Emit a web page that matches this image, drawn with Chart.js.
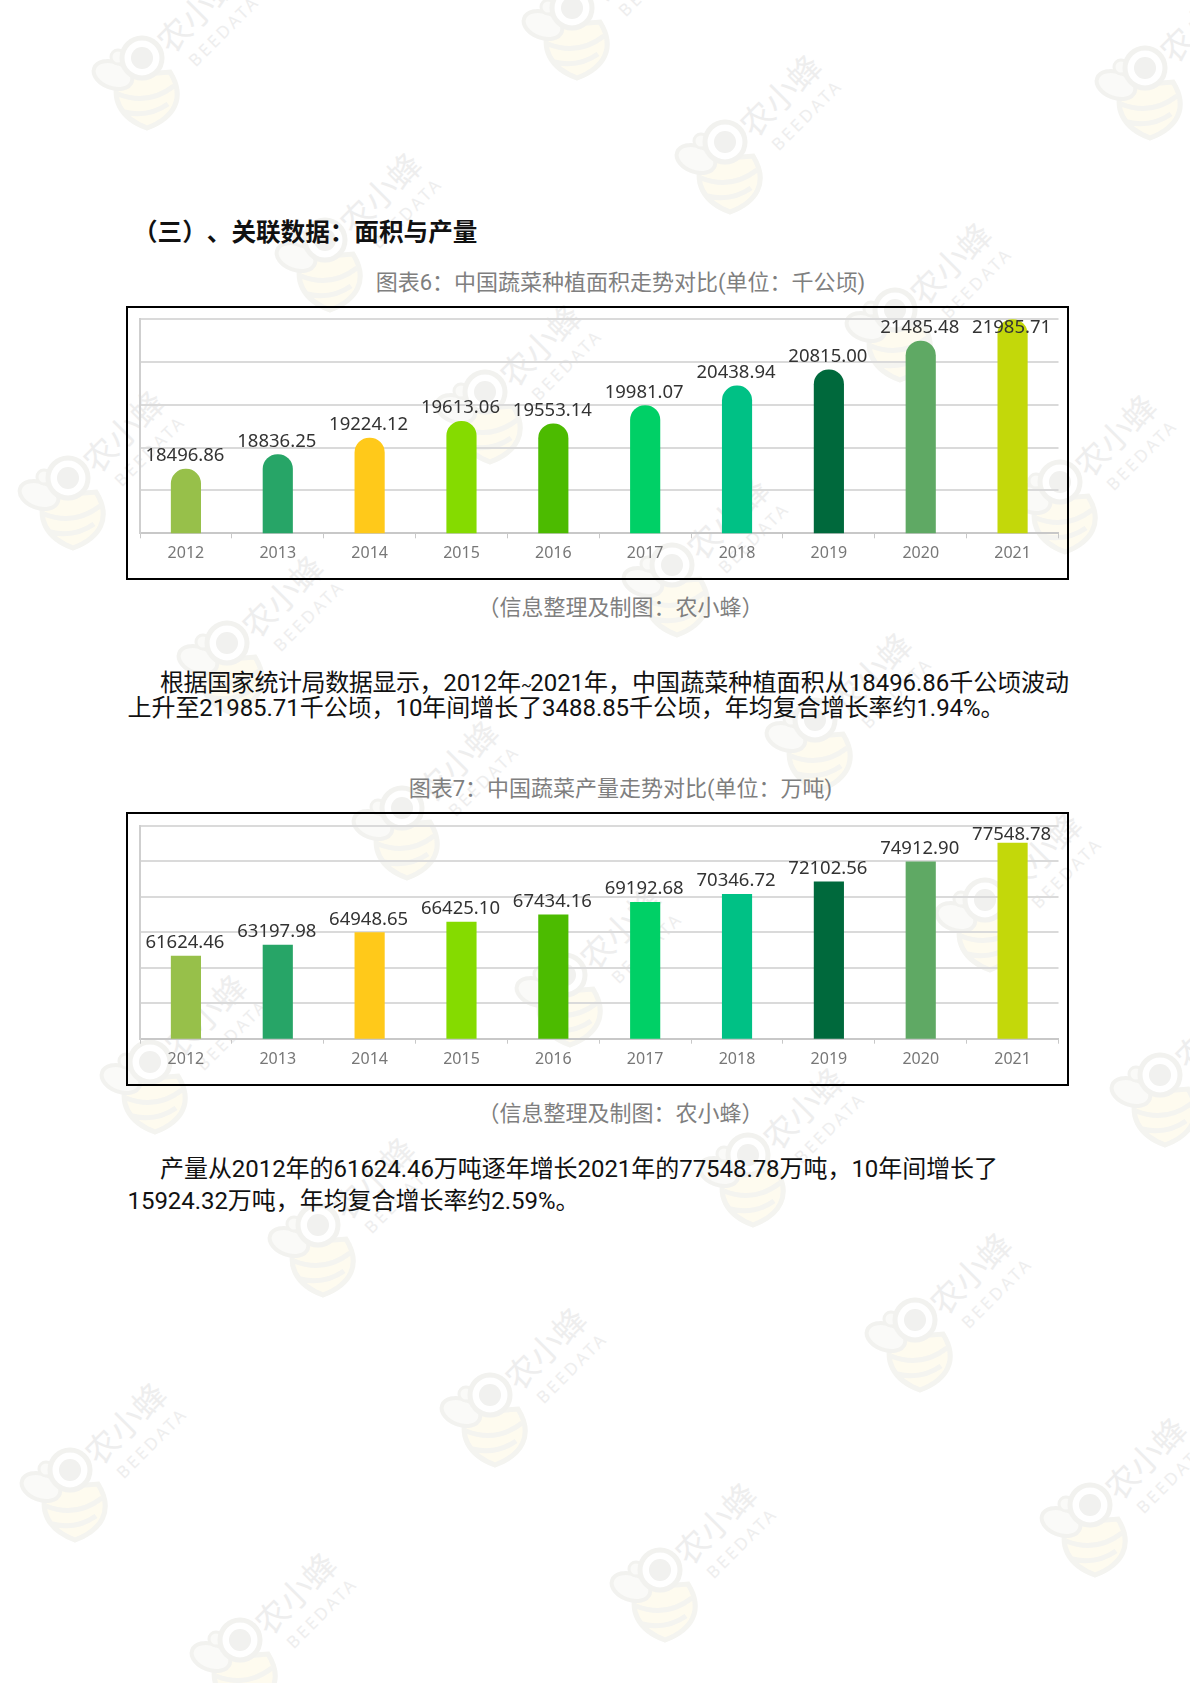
<!DOCTYPE html>
<html lang="zh">
<head>
<meta charset="utf-8">
<title>中国蔬菜种植面积与产量</title>
<script src="https://cdn.jsdelivr.net/npm/chart.js@4/dist/chart.umd.min.js"></script>
<style>
    html, body { margin: 0; padding: 0; background: #fff; }
    #page { position: relative; width: 1190px; height: 1683px; overflow: hidden; font-family: Roboto, "Noto Sans CJK SC", sans-serif; text-spacing-trim: space-all; }
    #watermarks { position: absolute; left: 0; top: 0; }
    .line { position: absolute; white-space: nowrap; }
    .heading { left: 133px; top: 214px; font: 700 24.6px/32px "Noto Sans CJK SC", sans-serif; color: #111; }
    .caption { left: 128px; width: 985px; text-align: center; font-size: 22px; line-height: 30px; color: #7f7f7f; }
    .body { font-size: 24px; line-height: 30px; color: #111; letter-spacing: -0.05px; }
    .box { position: absolute; left: 126px; width: 939px; height: 270px; border: 2px solid #000; }
    .box canvas { display: block; }
</style>
</head>
<body>
<div id="page">
    <svg id="watermarks" width="1190" height="1683"></svg>

    <div class="line heading">（三）、关联数据：面积与产量</div>

    <div class="line caption" style="top: 268px;">图表6：中国蔬菜种植面积走势对比(单位：千公顷)</div>
    <div class="box" style="top: 306px;"><canvas id="chartArea" width="939" height="270"></canvas></div>
    <div class="line caption" style="top: 593px;">（信息整理及制图：农小蜂）</div>

    <div class="line body" style="left: 160px; top: 668px;"><span style="letter-spacing: -0.4px;">根据国家统计局数据显示，</span>2012年<span style="font-size: 16px; letter-spacing: -1.5px;">~</span>2021年，<span style="letter-spacing: 0.1px;">中国蔬菜种植面积从</span>18496.86千公顷波动</div>
    <div class="line body" style="left: 127.5px; top: 693px;">上升至21985.71千公顷，10年间增长了3488.85千公顷，年均复合增长率约1.94%。</div>

    <div class="line caption" style="top: 774px;">图表7：中国蔬菜产量走势对比(单位：万吨)</div>
    <div class="box" style="top: 812px;"><canvas id="chartOutput" width="939" height="270"></canvas></div>
    <div class="line caption" style="top: 1099px;">（信息整理及制图：农小蜂）</div>

    <div class="line body" style="left: 160px; top: 1154px;">产量从2012年的61624.46万吨逐年增长2021年的77548.78万吨，10年间增长了</div>
    <div class="line body" style="left: 127.5px; top: 1186px;">15924.32万吨，年均复合增长率约2.59%。</div>
</div>

<script>
const years = ['2012', '2013', '2014', '2015', '2016', '2017', '2018', '2019', '2020', '2021'];
const plantedArea = [18496.86, 18836.25, 19224.12, 19613.06, 19553.14, 19981.07, 20438.94, 20815.00, 21485.48, 21985.71];
const vegetableOutput = [61624.46, 63197.98, 64948.65, 66425.10, 67434.16, 69192.68, 70346.72, 72102.56, 74912.90, 77548.78];
const barColors = ['#97c04a', '#27a567', '#ffc91a', '#85db00', '#4cbb00', '#00d066', '#00c185', '#00693c', '#5fa964', '#c3d80a'];

// head centre of each faint bee in the page background
const beeSpots = [
    [142, 58], [572, 8], [725, 142], [1145, 68], [325, 240], [895, 310], [485, 392], [68, 478],
    [1060, 482], [672, 565], [227, 643], [815, 720], [402, 808], [985, 900], [565, 975], [150, 1062],
    [1160, 1075], [748, 1155], [318, 1225], [915, 1320], [490, 1395], [70, 1470], [1090, 1505], [660, 1570], [240, 1640],
];

const gridColor = '#dadada';

// Value labels sit above the bars but never leave the top of the plot.
const valueLabels = {
    id: 'valueLabels',
    afterDatasetsDraw(chart) {
        const { ctx, chartArea } = chart;
        const values = chart.data.datasets[0].data;
        ctx.save();
        ctx.font = '18.5px "Noto Sans", sans-serif';
        ctx.fillStyle = '#333';
        ctx.textAlign = 'center';
        ctx.textBaseline = 'alphabetic';
        chart.getDatasetMeta(0).data.forEach((bar, i) => {
            const y = Math.max(bar.y - 8, chartArea.top + 14);
            ctx.fillText(values[i].toFixed(2), bar.x - 1, y);
        });
        ctx.restore();
    },
};

function drawBars(canvasId, values, axisMin, axisMax, axisStep, topRadius, plotTop, labelBand) {
    new Chart(document.getElementById(canvasId), {
        type: 'bar',
        data: {
            labels: years,
            datasets: [{
                data: values,
                backgroundColor: barColors,
                barThickness: 29.5,
                borderRadius: { topLeft: topRadius, topRight: topRadius, bottomLeft: 0, bottomRight: 0 },
                borderSkipped: false,
            }],
        },
        options: {
            responsive: false,
            animation: false,
            layout: { padding: { left: 12, right: 8.5, top: plotTop, bottom: 0 } },
            plugins: { legend: { display: false }, tooltip: { enabled: false } },
            scales: {
                x: {
                    afterFit(scale) { scale.height = labelBand; },
                    border: { color: '#c8c8c8', width: 2 },
                    grid: { drawOnChartArea: false, color: '#c8c8c8', tickLength: 5, tickWidth: 1 },
                    ticks: { color: '#777', padding: 6, font: { family: '"Noto Sans", sans-serif', size: 16 } },
                },
                y: {
                    min: axisMin,
                    max: axisMax,
                    afterFit(scale) { scale.width = 0; },
                    border: { color: '#cfcfcf', width: 2 },
                    grid: { color: gridColor, lineWidth: 2, drawTicks: false },
                    ticks: { display: false, stepSize: axisStep },
                },
            },
        },
        plugins: [valueLabels],
    });
}

function drawWatermarks() {
    const bee = ([x, y]) => `
        <g transform="translate(${x} ${y})" opacity="0.9">
            <path d="M-22 18 C-32 40 -22 60 5 70 C32 60 44 40 28 14 Z" fill="#fefbee" stroke="#f3f3ef" stroke-width="5"/>
            <path d="M-24 36 Q6 48 32 28 M-18 54 Q6 60 26 46" fill="none" stroke="#f3f3ef" stroke-width="5"/>
            <ellipse cx="-29" cy="17" rx="20" ry="13" transform="rotate(20 -29 17)" fill="#fafaf8" stroke="#f1f1ee" stroke-width="4"/>
            <circle cx="-24" cy="-1" r="7" fill="#fafaf8" stroke="#f1f1ee" stroke-width="3"/>
            <circle r="20" fill="#fff" stroke="#f1f1ee" stroke-width="5"/>
            <circle r="11" fill="#f0f0ee"/>
            <text x="58" y="-44" transform="rotate(-45 58 -44)" text-anchor="middle" dominant-baseline="middle" font-family="Noto Sans CJK SC" font-size="33" fill="#ededed">农小蜂</text>
            <text x="83" y="-26" transform="rotate(-45 83 -26)" text-anchor="middle" dominant-baseline="middle" font-family="Noto Sans" font-size="17" letter-spacing="3" fill="#ededed">BEEDATA</text>
        </g>`;
    document.getElementById('watermarks').innerHTML = beeSpots.map(bee).join('');
}

drawWatermarks();
drawBars('chartArea', plantedArea, 17000, 22000, 1000, 15, 11, 44.7);
drawBars('chartOutput', vegetableOutput, 50000, 80000, 5000, 0, 11.7, 45.3);
</script>
</body>
</html>
